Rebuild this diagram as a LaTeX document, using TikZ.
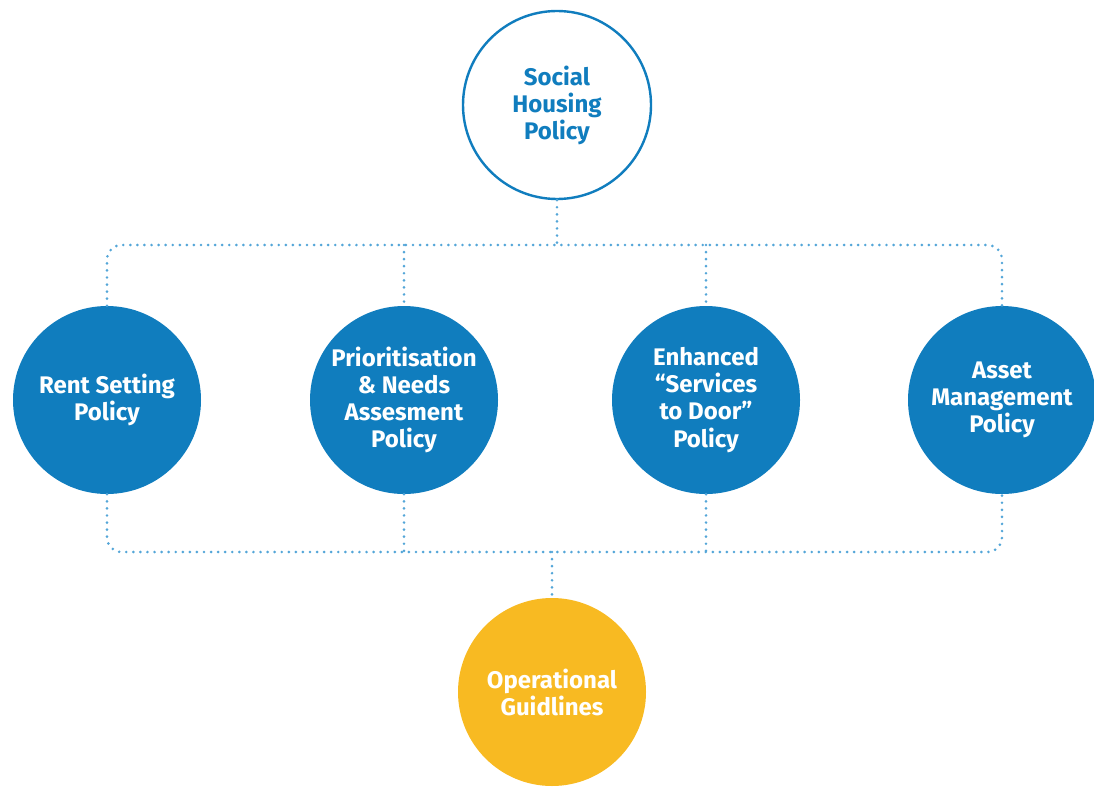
\documentclass[tikz,border=0pt]{standalone}
\usepackage{fontspec}
\setsansfont{Fira Sans}
\usepackage{tikz}

\definecolor{polblue}{RGB}{16,125,190}
\definecolor{dotblue}{RGB}{84,166,216}
\definecolor{opyellow}{RGB}{248,186,34}

\begin{document}
\begin{tikzpicture}[x=0.75pt,y=-0.75pt,
	circ/.style={circle,minimum size=141pt,inner sep=0pt,align=center,
		font=\sffamily\bfseries\fontsize{18}{20.3}\selectfont},
	topc/.style={circ,draw=polblue,line width=1.8pt,fill=white,text=polblue},
	polc/.style={circ,fill=polblue,text=white},
	opc/.style={circ,fill=opyellow,text=white},
	dots/.style={dotblue,line width=2.2pt,line cap=round,dash pattern=on 0pt off 5.3pt}]
	\useasboundingbox (0,0) rectangle (1094,788);

	\node[topc] (shp) at (557,105) {Social\\Housing\\Policy};

	\node[polc] (rent) at (107,400) {Rent Setting\\Policy};
	\node[polc] (prio) at (404,400) {Prioritisation\\\& Needs\\Assesment\\Policy};
	\node[polc] (enh) at (706,400) {Enhanced\\``Services\\to Door''\\Policy};
	\node[polc] (asset) at (1002,400) {Asset\\Management\\Policy};

	\node[opc] (ops) at (552,692) {Operational\\Guidlines};

	\coordinate (tbus) at (557,245);
	\coordinate (bbus) at (552,552);

	% upper bus
	\draw[dots] (shp.south) -- (tbus);
	\draw[dots,rounded corners=11pt] (rent.north) -- (rent.north |- tbus) -- (asset.north |- tbus) -- (asset.north);
	\foreach \n in {prio,enh}
		\draw[dots] (\n.north |- tbus) -- (\n.north);

	% lower bus
	\draw[dots,rounded corners=11pt] (rent.south) -- (rent.south |- bbus) -- (asset.south |- bbus) -- (asset.south);
	\foreach \n in {prio,enh}
		\draw[dots] (\n.south) -- (\n.south |- bbus);
	\draw[dots] (bbus) -- (ops.north);
\end{tikzpicture}
\end{document}
